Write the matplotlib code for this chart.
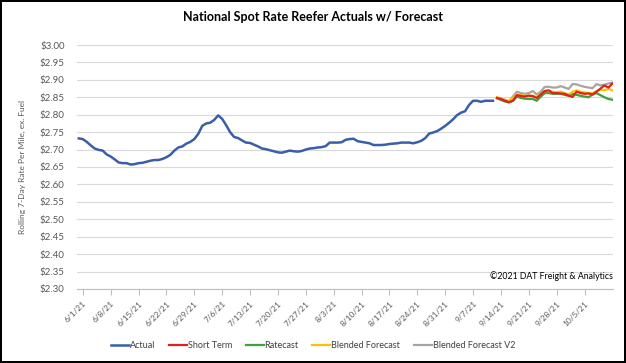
import datetime as dt
import matplotlib
matplotlib.use("Agg")
import matplotlib.pyplot as plt
import matplotlib.dates as mdates
from matplotlib.ticker import FuncFormatter, MultipleLocator

plt.rcParams['font.family'] = ['Lato', 'DejaVu Sans']

# ---- data ----
actual_start = dt.date(2021, 5, 31)
actual = [
    2.732, 2.730, 2.722, 2.712, 2.703, 2.699, 2.697, 2.686, 2.680, 2.672,
    2.663, 2.661, 2.661, 2.657, 2.658, 2.661, 2.662, 2.665, 2.668, 2.670,
    2.670, 2.673, 2.678, 2.685, 2.697, 2.706, 2.709, 2.717, 2.722, 2.730,
    2.745, 2.768, 2.775, 2.777, 2.785, 2.798, 2.788, 2.770, 2.750, 2.736,
    2.733, 2.726, 2.720, 2.719, 2.714, 2.709, 2.703, 2.701, 2.698, 2.695,
    2.692, 2.691, 2.694, 2.697, 2.695, 2.694, 2.696, 2.700, 2.703, 2.704,
    2.706, 2.707, 2.710, 2.720, 2.720, 2.720, 2.721, 2.728, 2.730, 2.731,
    2.724, 2.722, 2.720, 2.718, 2.713, 2.713, 2.713, 2.714, 2.716, 2.717,
    2.718, 2.720, 2.720, 2.720, 2.718, 2.721, 2.725, 2.733, 2.746, 2.749,
    2.753, 2.760, 2.768, 2.777, 2.787, 2.799, 2.806, 2.810, 2.828, 2.840,
    2.840, 2.837, 2.840, 2.840, 2.840,
]

forecast_start = dt.date(2021, 9, 13)
short_term = [
    2.848, 2.845, 2.840, 2.836, 2.840, 2.856, 2.854, 2.852, 2.855, 2.853,
    2.848, 2.858, 2.868, 2.870, 2.862, 2.862, 2.861, 2.860, 2.855, 2.851,
    2.866, 2.862, 2.860, 2.861, 2.858, 2.866, 2.875, 2.884, 2.878, 2.890,
    2.884,
]
ratecast = [
    2.848, 2.842, 2.838, 2.835, 2.840, 2.852, 2.848, 2.846, 2.845, 2.845,
    2.840, 2.852, 2.862, 2.862, 2.860, 2.860, 2.860, 2.857, 2.854, 2.860,
    2.857, 2.854, 2.852, 2.850, 2.858, 2.862, 2.856, 2.850, 2.845, 2.843,
    2.840,
]
blended = [
    2.850, 2.847, 2.842, 2.840, 2.848, 2.858, 2.856, 2.855, 2.853, 2.855,
    2.850, 2.860, 2.868, 2.868, 2.866, 2.865, 2.866, 2.862, 2.858, 2.866,
    2.870, 2.866, 2.864, 2.862, 2.862, 2.868, 2.872, 2.870, 2.874, 2.870,
    2.862,
]
blended_v2 = [
    2.847, 2.846, 2.843, 2.838, 2.852, 2.866, 2.862, 2.860, 2.862, 2.868,
    2.858, 2.866, 2.880, 2.880, 2.878, 2.878, 2.882, 2.878, 2.874, 2.888,
    2.887, 2.883, 2.880, 2.878, 2.876, 2.888, 2.884, 2.886, 2.890, 2.892,
    2.878,
]

title = "National Spot Rate Reefer Actuals w/ Forecast"
ylabel = "Rolling 7-Day Rate Per Mile, ex. Fuel"
credit = "\u00a92021 DAT Freight & Analytics"
tick_start = dt.date(2021, 6, 1)
tick_end = dt.date(2021, 10, 5)

actual_dates = [actual_start + dt.timedelta(days=i) for i in range(len(actual))]
fc_dates = [forecast_start + dt.timedelta(days=i) for i in range(len(short_term))]

# ---- figure ----
fig = plt.figure(figsize=(6.26, 3.63), dpi=100)
fig.patch.set_edgecolor('#000000')
fig.patch.set_linewidth(1.5)
ax = fig.add_axes([0.123, 0.204, 0.856, 0.672])

c_actual = '#3A5EA8'
c_short = '#E0201B'
c_rate = '#3FA03F'
c_blend = '#FFC000'
c_v2 = '#A5A5A5'

lw = 1.6
ax.plot(actual_dates, actual, color=c_actual, lw=1.8, label='Actual', zorder=5)
ax.plot(fc_dates, short_term, color=c_short, lw=lw, label='Short Term', zorder=4)
ax.plot(fc_dates, ratecast, color=c_rate, lw=lw, label='Ratecast', zorder=3)
ax.plot(fc_dates, blended, color=c_blend, lw=lw, label='Blended Forecast', zorder=3.5)
ax.plot(fc_dates, blended_v2, color=c_v2, lw=lw, label='Blended Forecast V2', zorder=2)

ax.set_ylim(2.30, 3.00)
ax.yaxis.set_major_locator(MultipleLocator(0.05))
ax.yaxis.set_major_formatter(FuncFormatter(lambda v, p: f"${v:.2f}"))
ax.set_xlim(mdates.date2num(actual_start) - 0.45, mdates.date2num(dt.date(2021, 10, 12)) + 0.1)

ticks = []
d = tick_start
while d <= tick_end:
    ticks.append(d)
    d += dt.timedelta(days=7)
ax.set_xticks([mdates.date2num(t) for t in ticks])
ax.set_xticklabels([f"{t.month}/{t.day}/{t.year % 100}" for t in ticks],
                   rotation=45, ha='right', rotation_mode='anchor')

ax.grid(axis='y', color='#D9D9D9', lw=0.8)
ax.set_axisbelow(True)
for s in ['top', 'right', 'left']:
    ax.spines[s].set_visible(False)
ax.spines['bottom'].set_color('#BFBFBF')
ax.spines['bottom'].set_linewidth(0.8)
ax.tick_params(axis='y', length=0, labelsize=7, labelcolor='#595959', pad=9)
ax.tick_params(axis='x', length=4, color='#BFBFBF', width=0.8, labelsize=6,
               labelcolor='#595959', pad=4)

fig.text(0.036, (0.204 + 0.876) / 2, ylabel, rotation=90, ha='center', va='center',
         fontsize=6, color='#595959')
fig.text(0.5, 1 - 17 / 363, title, ha='center', va='center', fontsize=9,
         fontweight='bold', color='#000000')
fig.text(613 / 626, 1 - 276 / 363, credit, ha='right', va='center', fontsize=6.3,
         color='#000000')

leg = fig.legend(loc='center', bbox_to_anchor=(0.5, 1 - 346 / 363), ncol=5,
                 frameon=False, fontsize=6.5, handlelength=2.0, handletextpad=0.1,
                 columnspacing=1.5)
for t in leg.get_texts():
    t.set_color('#404040')

fig.savefig('out.png', dpi=100)
